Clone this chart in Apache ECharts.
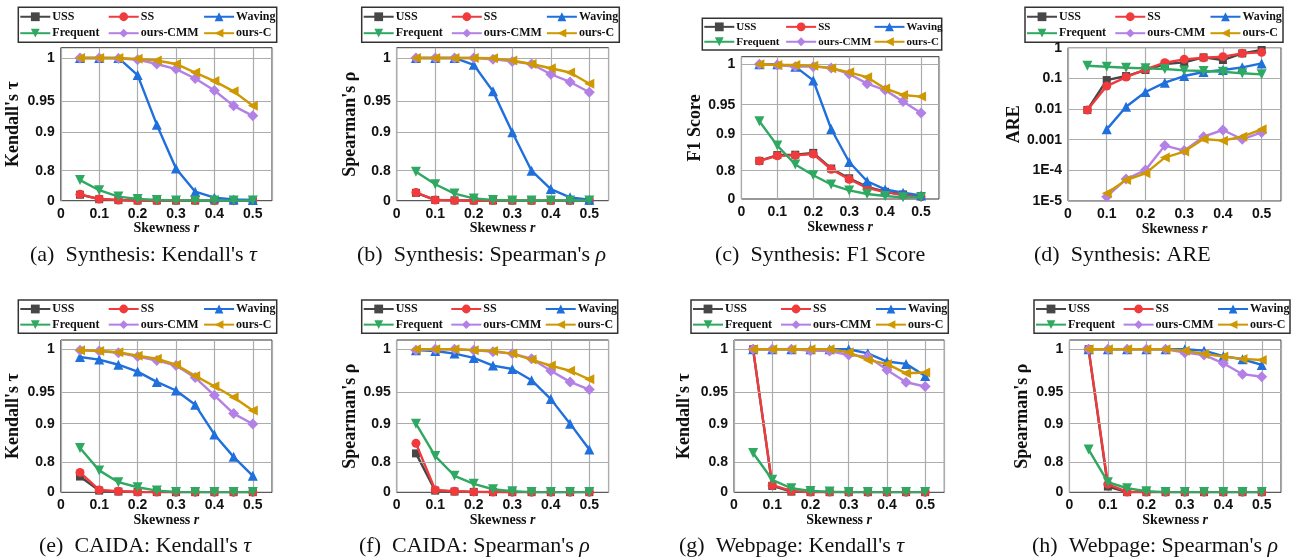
<!DOCTYPE html>
<html>
<head>
<meta charset="utf-8">
<script src="https://cdn.jsdelivr.net/npm/echarts@6/dist/echarts.min.js"></script>
<style>
  html, body { margin: 0; padding: 0; background: #fff; }
  #chart { width: 1291px; height: 558px; }
</style>
</head>
<body>
<div id="chart"></div>
<script>
// x values shared by every panel
const skew = [0.05, 0.1, 0.15, 0.2, 0.25, 0.3, 0.35, 0.4, 0.45, 0.5];
const methods = ['USS', 'SS', 'Waving', 'Frequent', 'ours-CMM', 'ours-C'];

// stretched y axis of the rank / F1 panels
const yTickValues = [0, 0.8, 0.9, 0.95, 1];
const yTickLabels = ['0', '0.8', '0.9', '0.95', '1'];
const areTickLabels = ['1E-5', '1E-4', '0.001', '0.01', '0.1', '1'];

// (a) Synthesis: Kendall's tau
const synTauUSS      = [0.16, 0.04, 0.015, 0.005, 0.004, 0.003, 0.003, 0.003, 0.003, 0.003];
const synTauSS       = [0.17, 0.045, 0.018, 0.006, 0.004, 0.003, 0.003, 0.002, 0.002, 0.002];
const synTauWaving   = [1, 1, 1, 0.980, 0.912, 0.806, 0.24, 0.08, 0.035, 0.018];
const synTauFrequent = [0.55, 0.28, 0.11, 0.044, 0.018, 0.008, 0.005, 0.004, 0.003, 0.003];
const synTauCMM      = [1, 1, 0.9995, 0.998, 0.993, 0.987, 0.976, 0.962, 0.942, 0.926];
const synTauC        = [1, 1, 1, 0.999, 0.997, 0.993, 0.983, 0.973, 0.961, 0.942];

// (b) Synthesis: Spearman's rho
const synRhoUSS      = [0.21, 0.02, 0.008, 0.005, 0.004, 0.003, 0.003, 0.003, 0.003, 0.003];
const synRhoSS       = [0.22, 0.018, 0.008, 0.005, 0.004, 0.003, 0.003, 0.003, 0.003, 0.003];
const synRhoWaving   = [1, 1, 1, 0.992, 0.961, 0.9, 0.8, 0.31, 0.09, 0.027];
const synRhoFrequent = [0.77, 0.44, 0.19, 0.062, 0.018, 0.006, 0.005, 0.005, 0.005, 0.005];
const synRhoCMM      = [1, 1, 1, 1, 0.9985, 0.996, 0.993, 0.981, 0.972, 0.960];
const synRhoC        = [1, 1, 1, 1, 0.9996, 0.997, 0.993, 0.988, 0.983, 0.970];

// (c) Synthesis: F1 Score
const synF1USS      = [0.827, 0.843, 0.844, 0.849, 0.806, 0.586, 0.344, 0.205, 0.13, 0.084];
const synF1SS       = [0.827, 0.841, 0.842, 0.846, 0.804, 0.558, 0.316, 0.195, 0.112, 0.065];
const synF1Waving   = [1, 1, 0.997, 0.980, 0.909, 0.824, 0.502, 0.27, 0.177, 0.102];
const synF1Frequent = [0.922, 0.869, 0.817, 0.670, 0.409, 0.242, 0.14, 0.084, 0.047, 0.047];
const synF1CMM      = [1, 0.999, 0.997, 0.997, 0.9955, 0.988, 0.976, 0.968, 0.954, 0.936];
const synF1C        = [1, 0.999, 0.999, 0.998, 0.995, 0.990, 0.984, 0.970, 0.962, 0.960];

// (d) Synthesis: ARE (log scale)
const synAreUSS      = [0.0093, 0.088, 0.119, 0.187, 0.293, 0.332, 0.484, 0.396, 0.653, 0.84];
const synAreSS       = [0.0093, 0.056, 0.11, 0.197, 0.324, 0.417, 0.472, 0.509, 0.653, 0.705];
const synAreWaving   = [null, 0.00217, 0.0119, 0.0358, 0.0722, 0.119, 0.161, 0.187, 0.229, 0.308];
const synAreFrequent = [0.259, 0.24, 0.223, 0.212, 0.201, 0.182, 0.173, 0.165, 0.146, 0.135];
const synAreCMM      = [null, 1.38e-5, 5.2e-5, 1.02e-4, 6.4e-4, 4.4e-4, 1.25e-3, 2.07e-3, 1.03e-3, 1.73e-3];
const synAreC        = [null, 1.78e-5, 4.8e-5, 8.0e-5, 2.6e-4, 4.1e-4, 1.05e-3, 9.3e-4, 1.25e-3, 2.17e-3];

// (e) CAIDA: Kendall's tau
const caiTauUSS      = [0.42, 0.045, 0.02, 0.009, 0.005, 0.004, 0.004, 0.004, 0.004, 0.004];
const caiTauSS       = [0.53, 0.063, 0.027, 0.009, 0.005, 0.004, 0.004, 0.004, 0.004, 0.004];
const caiTauWaving   = [0.991, 0.988, 0.982, 0.974, 0.962, 0.952, 0.930, 0.872, 0.814, 0.44];
const caiTauFrequent = [0.837, 0.584, 0.27, 0.135, 0.045, 0.009, 0.005, 0.005, 0.005, 0.005];
const caiTauCMM      = [0.999, 0.998, 0.996, 0.9915, 0.987, 0.981, 0.967, 0.945, 0.916, 0.899];
const caiTauC        = [0.999, 0.998, 0.9965, 0.9926, 0.989, 0.982, 0.969, 0.957, 0.942, 0.921];

// (f) CAIDA: Spearman's rho
const caiRhoUSS      = [0.823, 0.045, 0.02, 0.01, 0.005, 0.004, 0.004, 0.004, 0.004, 0.004];
const caiRhoSS       = [0.849, 0.063, 0.027, 0.01, 0.006, 0.004, 0.004, 0.004, 0.004, 0.004];
const caiRhoWaving   = [0.999, 0.998, 0.995, 0.990, 0.981, 0.977, 0.964, 0.939, 0.900, 0.833];
const caiRhoFrequent = [0.900, 0.816, 0.44, 0.225, 0.081, 0.027, 0.005, 0.005, 0.005, 0.005];
const caiRhoCMM      = [0.999, 1, 1, 0.999, 0.997, 0.995, 0.989, 0.975, 0.962, 0.953];
const caiRhoC        = [1, 1, 1, 0.999, 0.998, 0.995, 0.988, 0.981, 0.975, 0.965];

// (g) Webpage: Kendall's tau
const webTauUSS      = [1, 0.171, 0.018, 0.005, 0.004, 0.004, 0.004, 0.004, 0.004, 0.004];
const webTauSS       = [1, 0.189, 0.036, 0.005, 0.005, 0.004, 0.004, 0.004, 0.004, 0.004];
const webTauWaving   = [1, 1, 1, 1, 1, 1, 0.9953, 0.9857, 0.983, 0.969];
const webTauFrequent = [0.824, 0.333, 0.108, 0.036, 0.018, 0.005, 0.005, 0.005, 0.005, 0.005];
const webTauCMM      = [1, 1, 1, 0.9984, 0.998, 0.9934, 0.9915, 0.976, 0.9616, 0.9566];
const webTauC        = [1, 1, 1, 1, 1, 0.9965, 0.9876, 0.983, 0.972, 0.973];

// (h) Webpage: Spearman's rho
const webRhoUSS      = [1, 0.153, 0.004, 0.004, 0.004, 0.004, 0.004, 0.004, 0.004, 0.004];
const webRhoSS       = [1, 0.216, 0.009, 0.005, 0.005, 0.005, 0.005, 0.005, 0.005, 0.005];
const webRhoWaving   = [1, 1, 1, 1, 1, 1, 0.9984, 0.992, 0.9884, 0.9818];
const webRhoFrequent = [0.833, 0.27, 0.108, 0.027, 0.005, 0.005, 0.005, 0.005, 0.005, 0.005];
const webRhoCMM      = [1, 1, 1, 1, 1, 0.9961, 0.9934, 0.9837, 0.971, 0.968];
const webRhoC        = [1, 1, 1, 1, 1, 0.9984, 0.9946, 0.9915, 0.9888, 0.9876];

// where each y tick sits on the stretched axis (0..100 between 0 and 1)
const yTickSpots = [0, 21, 48, 70, 100];

function stretch(v) {
  for (let i = 1; i < yTickValues.length; i++) {
    if (v <= yTickValues[i]) {
      const a = yTickValues[i - 1], b = yTickValues[i];
      return yTickSpots[i - 1] + (v - a) / (b - a) * (yTickSpots[i] - yTickSpots[i - 1]);
    }
  }
  return yTickSpots[yTickSpots.length - 1];
}

const looks = {
  'USS':      { color: '#474747', symbol: 'rect', size: 8, rotate: 0 },
  'SS':       { color: '#f03a3c', symbol: 'circle', size: 9, rotate: 0 },
  'Waving':   { color: '#1f6fdc', symbol: 'triangle', size: 10, rotate: 0 },
  'Frequent': { color: '#2fa862', symbol: 'triangle', size: 10, rotate: 180 },
  'ours-CMM': { color: '#b381e6', symbol: 'diamond', size: 11, rotate: 0 },
  'ours-C':   { color: '#cf9800', symbol: 'triangle', size: 10, rotate: 90 }
};

const panels = [
  { data: [synTauUSS, synTauSS, synTauWaving, synTauFrequent, synTauCMM, synTauC], yName: "Kendall's τ", log: false,
    grid: [60.8, 47.7, 211.2, 153], yTop: 107.2, box: [18.3, 7.3, 258.4, 35], legendFont: 12, nameX: 17, xNameGap: 19,
    cap: "(a)  Synthesis: Kendall's ", greek: 'τ', capX: 30, capY: 255 },
  { data: [synRhoUSS, synRhoSS, synRhoWaving, synRhoFrequent, synRhoCMM, synRhoC], yName: "Spearman's ρ", log: false,
    grid: [396.7, 47.7, 211.9, 153], yTop: 107.2, box: [361.7, 7.3, 257.6, 35], legendFont: 12, nameX: 355, xNameGap: 19,
    cap: "(b)  Synthesis: Spearman's ", greek: 'ρ', capX: 357, capY: 255 },
  { data: [synF1USS, synF1SS, synF1Waving, synF1Frequent, synF1CMM, synF1C], yName: 'F1 Score', log: false,
    grid: [741.4, 56.7, 197.6, 142.3], yTop: 105.6, box: [702.3, 18.3, 239.4, 31.7], legendFont: 11, nameX: 706.7, xNameGap: 19,
    cap: '(c)  Synthesis: F1 Score', greek: '', capX: 715, capY: 255 },
  { data: [synAreUSS, synAreSS, synAreWaving, synAreFrequent, synAreCMM, synAreC], yName: 'ARE', log: true,
    grid: [1068, 47.7, 213, 153.3], yTop: 1, box: [1025, 7.3, 258, 35], legendFont: 12, nameX: 1020, xNameGap: 19,
    cap: '(d)  Synthesis: ARE', greek: '', capX: 1034, capY: 255 },
  { data: [caiTauUSS, caiTauSS, caiTauWaving, caiTauFrequent, caiTauCMM, caiTauC], yName: "Kendall's τ", log: false,
    grid: [60.8, 340, 211.2, 152.3], yTop: 106.5, box: [18.3, 300, 258.4, 33.3], legendFont: 12, nameX: 17, xNameGap: 21,
    cap: "(e)  CAIDA: Kendall's ", greek: 'τ', capX: 39, capY: 546.7 },
  { data: [caiRhoUSS, caiRhoSS, caiRhoWaving, caiRhoFrequent, caiRhoCMM, caiRhoC], yName: "Spearman's ρ", log: false,
    grid: [396.7, 340, 211.9, 152.3], yTop: 106.5, box: [361.7, 300, 256, 33.3], legendFont: 12, nameX: 355, xNameGap: 21,
    cap: "(f)  CAIDA: Spearman's ", greek: 'ρ', capX: 359, capY: 546.7 },
  { data: [webTauUSS, webTauSS, webTauWaving, webTauFrequent, webTauCMM, webTauC], yName: "Kendall's τ", log: false,
    grid: [734, 340, 210.3, 152.3], yTop: 106.5, box: [691, 300, 257.3, 33.3], legendFont: 12, nameX: 688, xNameGap: 21,
    cap: "(g)  Webpage: Kendall's ", greek: 'τ', capX: 679, capY: 546.7 },
  { data: [webRhoUSS, webRhoSS, webRhoWaving, webRhoFrequent, webRhoCMM, webRhoC], yName: "Spearman's ρ", log: false,
    grid: [1069.4, 340, 211.6, 152.3], yTop: 106.5, box: [1034, 300, 256, 33.3], legendFont: 12, nameX: 1026.7, xNameGap: 21,
    cap: "(h)  Webpage: Spearman's ", greek: 'ρ', capX: 1032, capY: 546.7 }
];

const tickFont = { fontFamily: 'Liberation Sans', fontWeight: 'bold', fontSize: 14, color: '#111' };
const serifBold = { fontFamily: 'Liberation Serif', fontWeight: 'bold', color: '#111' };
const gridColor = '#acacac';

const grids = [], xAxes = [], yAxes = [], series = [], legends = [], graphics = [];

panels.forEach((p, k) => {
  const [gl, gt, gw, gh] = p.grid;
  grids.push({ left: gl, top: gt, width: gw, height: gh, show: true, borderColor: '#333', borderWidth: 1,
    backgroundColor: 'transparent', containLabel: false, outerBoundsMode: 'none' });

  xAxes.push({
    gridIndex: k, type: 'value', min: 0, max: 0.55, interval: 0.1,
    name: 'Skewness {i|r}', nameLocation: 'middle', nameGap: p.xNameGap,
    nameTextStyle: Object.assign({ fontSize: 14, rich: { i: Object.assign({ fontSize: 14, fontStyle: 'italic' }, serifBold) } }, serifBold),
    axisLine: { show: false }, axisTick: { show: false },
    axisLabel: Object.assign({ margin: 6, showMaxLabel: false }, tickFont),
    splitLine: { show: true, lineStyle: { color: gridColor, width: 1.2 } }
  });

  const yName = { name: p.yName, nameLocation: 'middle', nameGap: gl - p.nameX - 5,
    nameTextStyle: Object.assign({ fontSize: 18 }, serifBold) };
  if (p.log) {
    yAxes.push(Object.assign({
      gridIndex: k, type: 'log', logBase: 10, min: 1e-5, max: 1, interval: 1,
      axisLine: { show: false }, axisTick: { show: false },
      axisLabel: Object.assign({ margin: 6, formatter: v => areTickLabels[Math.round(Math.log10(v)) + 5] }, tickFont),
      splitLine: { show: true, lineStyle: { color: gridColor, width: 1.2 } }
    }, yName));
  } else {
    yAxes.push(Object.assign({
      gridIndex: k, type: 'value', min: 0, max: p.yTop,
      axisLine: { show: false }, axisTick: { show: false },
      axisLabel: Object.assign({ margin: 6, customValues: yTickSpots,
        formatter: v => yTickLabels[yTickSpots.indexOf(v)] }, tickFont),
      splitLine: { show: false }
    }, yName));
    // horizontal grid lines at the stretched tick spots
    series.push({
      type: 'line', xAxisIndex: k, yAxisIndex: k, data: [], silent: true, z: 1,
      markLine: { silent: true, symbol: 'none', label: { show: false },
        lineStyle: { color: gridColor, width: 1.2, type: 'solid' },
        data: yTickSpots.slice(1).map(v => ({ yAxis: v })) }
    });
  }

  methods.forEach((m, i) => {
    const lk = looks[m];
    series.push({
      name: m, type: 'line', xAxisIndex: k, yAxisIndex: k, z: 3 + i,
      data: skew.map((x, j) => [x, p.data[i][j]])
        .filter(d => d[1] != null)
        .map(d => [d[0], p.log ? d[1] : stretch(d[1])]),
      symbol: lk.symbol, symbolSize: lk.size, symbolRotate: lk.rotate, showAllSymbol: true,
      itemStyle: { color: lk.color }, lineStyle: { color: lk.color, width: 2.4 }
    });
  });

  // legend frame and three columns
  const [bx, by, bw, bh] = p.box;
  graphics.push({ type: 'rect', shape: { x: bx, y: by, width: bw, height: bh },
    style: { fill: 'none', stroke: '#333', lineWidth: 1.5 }, silent: true });
  const r1 = by + bh * 0.27, r2 = by + bh * 0.74;
  const cols = [['USS', 'Frequent'], ['SS', 'ours-CMM'], ['Waving', 'ours-C']];
  const colOff = [1, 0.346 * bw, 0.715 * bw];
  cols.forEach((names, c) => {
    legends.push({
      data: names, orient: 'vertical', left: bx + colOff[c], top: r1 - 7,
      itemWidth: 30, itemHeight: 11, itemGap: r2 - r1 - 14, padding: 0, selectedMode: false,
      textStyle: Object.assign({ fontSize: p.legendFont, lineHeight: 14, padding: [0, 0, 0, -3] }, serifBold)
    });
  });

  graphics.push({
    type: 'text', silent: true,
    style: { x: p.capX, y: p.capY, text: p.cap + (p.greek ? '{g|' + p.greek + '}' : ''),
      fontFamily: 'Liberation Serif', fontSize: 22, fill: '#111', textAlign: 'left', textVerticalAlign: 'middle',
      rich: { g: { fontFamily: 'Liberation Serif', fontSize: 22, fontStyle: 'italic', fill: '#111' } } }
  });
});

const chart = echarts.init(document.getElementById('chart'));
chart.setOption({
  animation: false,
  backgroundColor: '#fff',
  grid: grids,
  xAxis: xAxes,
  yAxis: yAxes,
  legend: legends,
  graphic: graphics,
  series: series
});
</script>
</body>
</html>
